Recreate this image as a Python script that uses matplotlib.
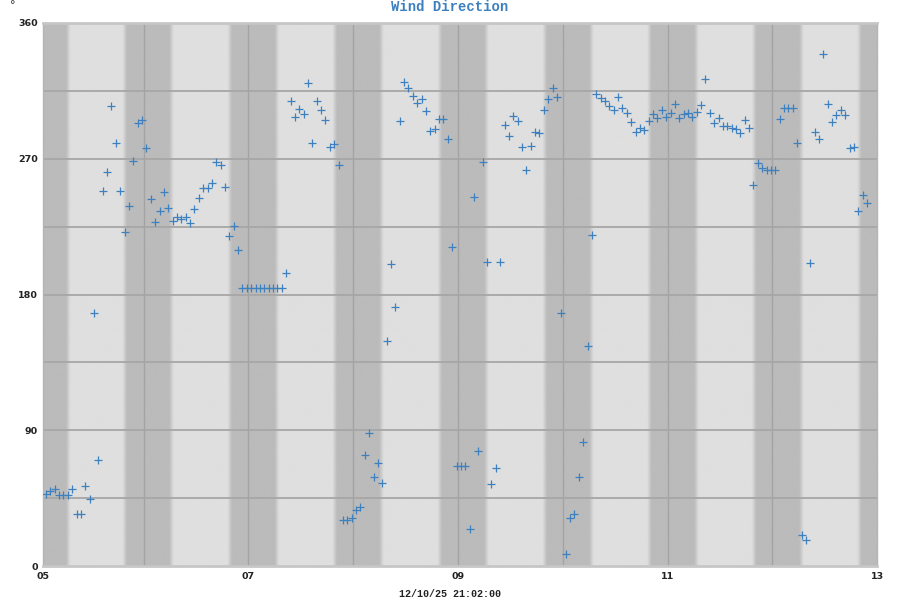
import numpy as np
import matplotlib
matplotlib.use("Agg")
import matplotlib.pyplot as plt

# hourly samples, hours counted from day 05 00:00
FIRST_HOUR = 1.65
WIND_DIR = [
    48.0, 49.6, 51.3, 47.3, 47.3, 47.3, 51.3, 34.5, 34.5, 52.9, 44.3,
    167.8, 70.1, 248.6, 261.0, 304.8, 280.3, 248.9, 221.6, 238.4, 268.7,
    293.8, 295.5, 277.3, 243.5, 227.9, 235.3, 247.7, 237.2, 228.8, 231.4,
    230.2, 231.1, 227.4, 236.7, 243.7, 250.3, 250.3, 254.0, 268.0, 266.1,
    251.2, 218.6, 225.6, 209.2,
    184.3, 184.3, 184.3, 184.3, 184.3, 184.3, 184.3, 184.3, 184.3, 184.3,
    194.1, 308.5, 297.5, 303.1, 299.9, 320.4, 280.5, 308.0, 302.0,
    295.7, 277.5, 280.1, 265.9,
    30.5, 30.5, 31.7, 36.8, 39.1, 73.9, 88.5, 59.0, 68.3, 55.0,
    149.1, 200.1, 172.0, 294.7, 320.6, 316.6, 311.5, 307.1, 309.4, 301.9,
    288.4, 289.6, 296.1, 296.3, 283.1, 211.8, 66.4, 66.4, 66.4, 24.7,
    244.9, 76.4, 268.0, 201.8, 54.3, 64.8, 201.8, 292.4, 285.4, 298.2,
    294.9, 277.7, 262.8, 278.4, 288.0, 287.1, 302.2, 309.4, 317.1, 311.1,
    167.5, 8.1, 31.9, 34.5, 58.7, 82.5, 145.6, 219.2, 313.2, 310.6,
    308.0, 305.2, 302.4, 310.8, 303.8, 300.1, 294.5, 287.5, 290.3, 288.9,
    294.7, 299.6, 297.1, 302.4, 297.8, 300.1, 306.6, 297.1, 299.6, 300.6,
    298.0, 301.3, 305.9, 322.9, 300.1, 293.6, 296.9, 291.7, 291.7, 290.6,
    289.4, 287.3, 295.5, 290.3, 252.6, 267.5, 263.8, 262.4, 262.4, 262.4,
    296.2, 303.6, 303.6, 303.6, 280.5, 20.5, 17.5, 201.1, 287.5, 283.3,
    339.5, 306.4, 294.3, 298.7, 302.4, 298.7, 277.0, 278.0, 235.3, 245.8, 240.9,
]

# night bands (sunset, sunrise) in hours from day 05 00:00
SUNSETS = [-5.0, 19.75, 43.8, 67.85, 91.9, 115.95, 139.9, 163.9, 188.0]
SUNRISES = [6.8, 30.45, 54.6, 78.55, 102.6, 126.65, 150.7, 174.75, 200.0]

X_START, X_END = 1.04, 192.0
TICK_HOURS = [X_START, 48, 96, 144, 192]
TICK_LABELS = ["05", "07", "09", "11", "13"]
DAY_LINES = [24, 48, 72, 96, 120, 144, 168]

LIGHT = np.array([223, 223, 223]) / 255
DARK = np.array([187, 187, 187]) / 255
BLUE = "#3d80bf"

fig = plt.figure(figsize=(9, 6), dpi=100)
ax = fig.add_axes([43.3 / 900, 1 - 566 / 600, (877.3 - 43.3) / 900, (566 - 23) / 600])

# day/night background with soft edges
tt = np.linspace(X_START, X_END, 3000)
w = np.zeros_like(tt)
for s, r in zip(SUNSETS, SUNRISES):
    w = np.maximum(w, np.clip(np.minimum(tt - s, r - tt) / 1.0 + 0.5, 0, 1))
rgb = LIGHT[None, :] + (DARK - LIGHT)[None, :] * w[:, None]
ax.imshow(rgb[None, :, :], extent=(X_START, X_END, 0, 360), aspect="auto",
          interpolation="bilinear", zorder=0)

hours = FIRST_HOUR + np.arange(len(WIND_DIR))
ax.plot(hours, WIND_DIR, ls="none", marker="+", ms=6, mew=0.9, color=BLUE, zorder=3)

ax.set_xlim(X_START, X_END)
ax.set_ylim(0, 360)
ax.set_xticks(TICK_HOURS)
ax.set_xticklabels(TICK_LABELS)
ax.set_yticks([0, 90, 180, 270, 360])
for d in DAY_LINES:
    ax.axvline(d, color="#a3a3a3", lw=1.0, zorder=1)
for yv in [45, 90, 135, 180, 225, 270, 315]:
    ax.axhline(yv, color="#a6a6a6", lw=1.3, zorder=1)

ax.tick_params(axis="both", which="both", length=0, labelsize=6.8, pad=4)
for lab in ax.get_xticklabels() + ax.get_yticklabels():
    lab.set_fontweight("bold")
    lab.set_color("#222222")

for side in ("top", "bottom"):
    ax.spines[side].set_color("#c6c6c6")
    ax.spines[side].set_linewidth(2)
for side in ("left", "right"):
    ax.spines[side].set_color("#b4b4b4")
    ax.spines[side].set_linewidth(1)

fig.text(0.5, 1 - 7 / 600, "Wind Direction", ha="center", va="center",
         family="Liberation Mono", weight="bold", fontsize=10, color=BLUE)
fig.text(0.5, 1 - 594 / 600, "12/10/25 21:02:00", ha="center", va="center",
         family="Liberation Mono", weight="bold", fontsize=7.2, color="#222222")
fig.text(13 / 900, 1 - 5 / 600, "°", ha="center", va="center", fontsize=8, color="#333333")

fig.savefig("out.png", dpi=100)
